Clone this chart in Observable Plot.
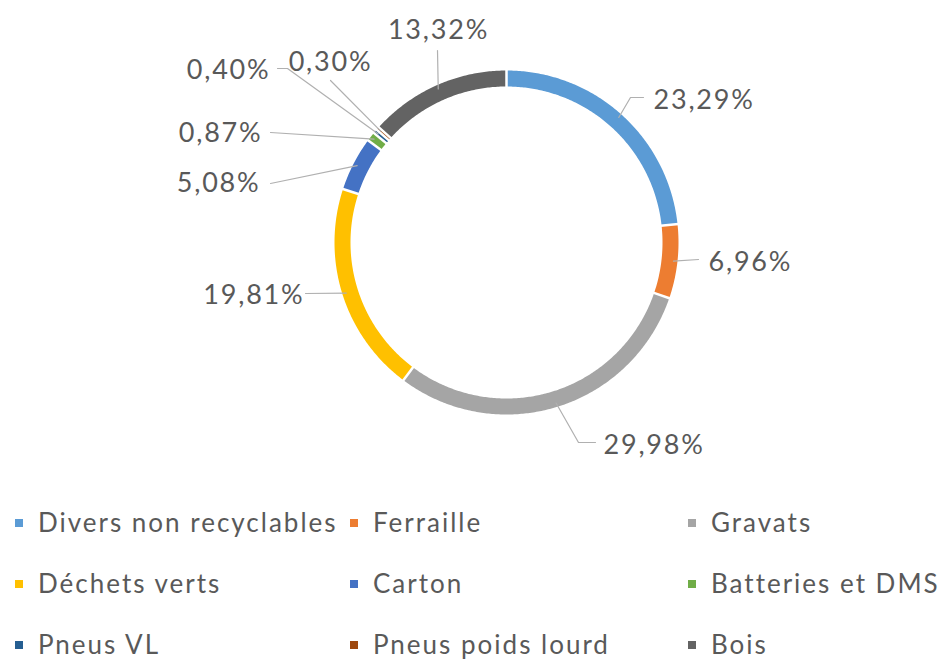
<!DOCTYPE html>
<html><head><meta charset="utf-8">
<script src="https://cdn.jsdelivr.net/npm/d3@7"></script>
<script src="https://cdn.jsdelivr.net/npm/@observablehq/plot@0.6"></script>
<style>
body{margin:0;background:#fff;font-family:Lato,"Noto Sans",sans-serif;overflow:hidden;}
#chart svg{display:block;}
#legend{display:grid;grid-template-columns:335px 338px auto;padding-left:15px;color:#595959;font-size:26px;letter-spacing:2px;}
#legend .item{height:61px;display:flex;align-items:center;white-space:nowrap;line-height:1.05;}
#legend .sw{width:8px;height:8px;margin-right:15px;flex:none;}
</style></head><body>
<div id="chart"></div>
<div id="legend"></div>
<script>
// ---- data ----
const categories = ["Divers non recyclables","Ferraille","Gravats","Déchets verts","Carton","Batteries et DMS","Pneus VL","Pneus poids lourd","Bois"];
const values = [23.29, 6.96, 29.98, 19.81, 5.08, 0.87, 0.40, 0.30, 13.32];
const colors = ["#5B9BD5","#ED7D31","#A5A5A5","#FFC000","#4472C4","#70AD47","#255E91","#9E480E","#636363"];

// ---- layout (offsets from donut centre in px, y up) ----
const labelLayout = [
  {elbow:[124,145], end:[137,145], text:[147,142], anchor:"start"},
  {elbow:[192,-17], end:[192,-17], text:[202,-20], anchor:"start"},
  {elbow:[72,-200], end:[89,-200], text:[97,-203], anchor:"start"},
  {elbow:[-201,-51], end:[-201,-51], text:[-202,-53], anchor:"end"},
  {elbow:[-236,59], end:[-236,59], text:[-246,59], anchor:"end"},
  {elbow:[-236,110], end:[-236,110], text:[-244,109], anchor:"end"},
  {elbow:[-219,174], end:[-229,174], text:[-236,172], anchor:"end"},
  {elbow:[-176,162], end:[-176,162], text:[-176,180], anchor:"middle"},
  {elbow:[-69,192], end:[-69,192], text:[-68,212], anchor:"middle"}
];

const W = 939, H = 492, cx = 506, cy = 242, R = 172;
const rMid = 164, rIn = 155, rOut = 173, ringW = 16;

const data = categories.map((c, i) => ({cat: c, value: values[i], label: values[i].toFixed(2).replace(".", ",") + "%", lay: labelLayout[i]}));
const pie = d3.pie().sort(null).value(d => d.value)(data);

const ring = [];
for (const p of pie) {
  const n = Math.max(2, Math.ceil((p.endAngle - p.startAngle) / 0.01));
  for (let i = 0; i <= n; i++) {
    const a = p.startAngle + (p.endAngle - p.startAngle) * i / n;
    ring.push({cat: p.data.cat, x: rMid * Math.sin(a), y: rMid * Math.cos(a)});
  }
}
const seps = pie.map(p => p.startAngle);
const leaders = [];
for (const p of pie) {
  const a = (p.startAngle + p.endAngle) / 2;
  const L = p.data.lay;
  leaders.push({cat: p.data.cat, x: 168 * Math.sin(a), y: 168 * Math.cos(a)});
  leaders.push({cat: p.data.cat, x: L.elbow[0], y: L.elbow[1]});
  leaders.push({cat: p.data.cat, x: L.end[0], y: L.end[1]});
}
const txt = a => Plot.text(data.filter(d => d.lay.anchor === a), {
  x: d => d.lay.text[0], y: d => d.lay.text[1], text: "label",
  textAnchor: a, fontSize: 27, fill: "#595959", fontFamily: "Lato",
  style: {letterSpacing: "1.8px"}
});

const chart = Plot.plot({
  width: W, height: H, margin: 0,
  x: {domain: [-R, R], range: [cx - R, cx + R], axis: null},
  y: {domain: [-R, R], range: [cy + R, cy - R], axis: null},
  color: {domain: categories, range: colors},
  style: {background: "#fff"},
  marks: [
    Plot.line(ring, {x: "x", y: "y", z: "cat", stroke: "cat", strokeWidth: ringW, strokeLinecap: "butt", curve: "linear"}),
    Plot.link(seps, {x1: a => rIn * Math.sin(a), y1: a => rIn * Math.cos(a), x2: a => rOut * Math.sin(a), y2: a => rOut * Math.cos(a), stroke: "white", strokeWidth: 2.5}),
    Plot.line(leaders, {x: "x", y: "y", z: "cat", stroke: "#b0b0b0", strokeWidth: 1.2}),
    txt("start"), txt("end"), txt("middle")
  ]
});
chart.querySelectorAll("text").forEach(t => t.style.letterSpacing = "1.8px");
document.getElementById("chart").append(chart);

const leg = document.getElementById("legend");
categories.forEach((c, i) => {
  const it = document.createElement("div"); it.className = "item";
  const sw = document.createElement("span"); sw.className = "sw"; sw.style.background = colors[i];
  const t = document.createElement("span"); t.textContent = c;
  it.append(sw, t); leg.append(it);
});
</script>
</body></html>
